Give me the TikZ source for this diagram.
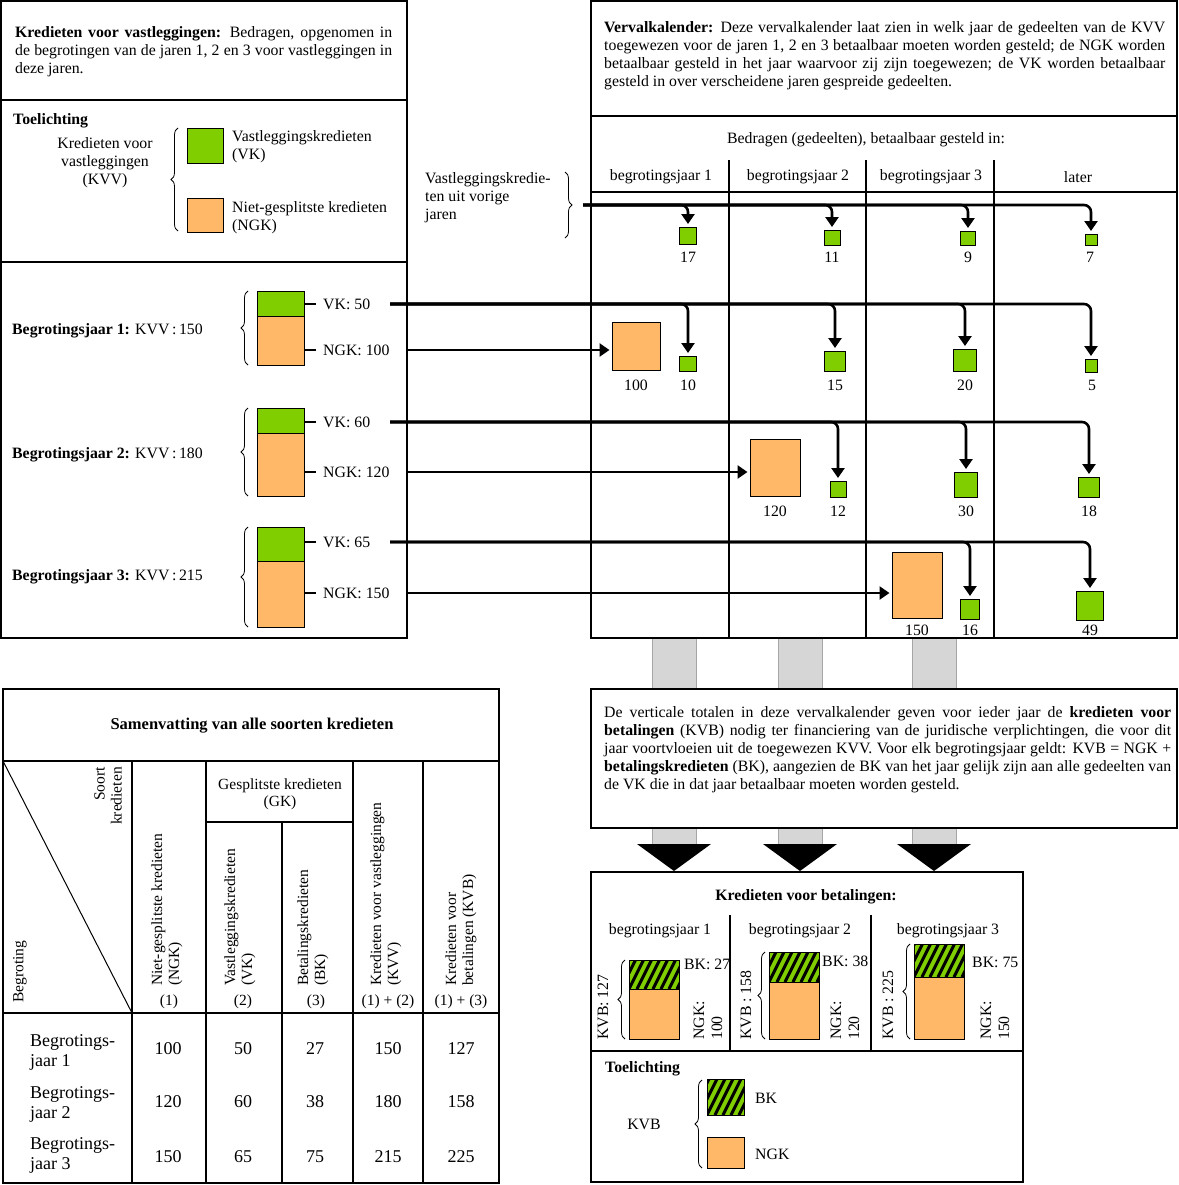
\documentclass[tikz,border=0pt]{standalone}
\usepackage{fontspec}
\setmainfont{Liberation Serif}
\usetikzlibrary{arrows.meta,decorations.pathreplacing,calc}
\definecolor{vkgreen}{RGB}{128,206,0}
\definecolor{ngkorange}{RGB}{255,183,104}
\definecolor{bargrey}{RGB}{214,214,214}
\newcommand\jl[2]{\makebox[#1][s]{#2}}
\newcommand\hatchrect[5]{%
  \fill[vkgreen] (#2,#3) rectangle (#4,#5);
  \begin{scope}
    \clip (#2,#3) rectangle (#4,#5);
    \foreach \k in {-40,-32,...,64} {\draw[line width=3pt] (#2+\k,#5) -- ++(22,-44);}
  \end{scope}
  \draw[line width=1pt] (#2,#3) rectangle (#4,#5);
  \coordinate (#1) at ($(#2,#3)!0.5!(#4,#5)$);
}
\begin{document}
\begin{tikzpicture}[x=1pt,y=-1pt,
  t/.style={font=\fontsize{15.8}{18}\selectfont, inner sep=0pt},
  tbf/.style={font=\fontsize{15.8}{18}\selectfont\bfseries, inner sep=0pt},
  tb/.style={font=\fontsize{18}{20}\selectfont, inner sep=0pt},
  th/.style={font=\fontsize{15.5}{17}\selectfont, inner sep=0pt},
  frame/.style={line width=1.8pt},
  grid/.style={line width=1.4pt},
  tick/.style={line width=2.4pt},
  vkline/.style={line width=2.6pt, rounded corners=7pt, -{Triangle[length=10pt,width=13pt]}, shorten >=3pt},
  ngkline/.style={line width=2.6pt, -{Triangle[length=10pt,width=13pt]}, shorten >=2pt},
  gsq/.style={draw, line width=1pt, fill=vkgreen, inner sep=0pt, anchor=south},
  osq/.style={draw, line width=1pt, fill=ngkorange, inner sep=0pt, anchor=south},
  brc/.style={decorate, decoration={brace, amplitude=7pt}, line width=0.8pt}
]
\useasboundingbox (0,0) rectangle (1178,1185);

% ---------- grey bars and down arrows ----------
\foreach \c in {674,800,934} {
  \filldraw[fill=bargrey, draw=gray!70, line width=0.8pt] (\c-22,638) rectangle (\c+22,689);
  \filldraw[fill=bargrey, draw=gray!70, line width=0.8pt] (\c-22,828) rectangle (\c+22,845);
  \fill (\c-37,844) -- (\c+37,844) -- (\c,871) -- cycle;
}

% ---------- LEFT BOX ----------
\draw[frame] (1,1) rectangle (407,638);
\draw[frame] (1,100) -- (407,100);
\draw[frame] (1,262) -- (407,262);
\node[t, anchor=north west, align=left] (kvvtxt) at (15,26)
  {\jl{377pt}{\textbf{Kredieten voor vastleggingen:} Bedragen, opgenomen in}\\
   \jl{377pt}{de begrotingen van de jaren 1, 2 en 3 voor vastleggingen in}\\
   deze jaren.};
\node[tbf, anchor=west] (toel1) at (13,121) {Toelichting};
\node[t, align=center] (kvvlbl) at (105,163) {Kredieten voor\\vastleggingen\\(KVV)};
\draw[brc] (178,231) -- (178,128);
\node[gsq, anchor=north west, minimum width=36pt, minimum height=35pt] (lgvk) at (187,128) {};
\node[osq, anchor=north west, minimum width=36pt, minimum height=34pt] (lgngk) at (187,198) {};
\node[t, anchor=west, align=left] (lgvktxt) at (232,147) {Vastleggingskredieten\\(VK)};
\node[t, anchor=west, align=left] (lgngktxt) at (232,218) {Niet-gesplitste kredieten\\(NGK)};

% year 1
\node[t, anchor=west] (by1) at (12,331) {\textbf{Begrotingsjaar 1:} KVV\,:\,150};
\node[gsq, anchor=north west, minimum width=47pt, minimum height=25pt] (g1) at (257,291) {};
\node[osq, anchor=north west, minimum width=47pt, minimum height=49pt] (o1) at (257,316) {};
\draw[brc] (248,365) -- (248,291);
\node[t, anchor=west] (lv1) at (323,304) {VK: 50};
\node[t, anchor=west] (ln1) at (323,350) {NGK: 100};
\draw[tick] (g1.east |- lv1.west) -- ([xshift=-7pt]lv1.west);
\draw[tick] (o1.east |- ln1.west) -- ([xshift=-7pt]ln1.west);
% year 2
\node[t, anchor=west] (by2) at (12,455) {\textbf{Begrotingsjaar 2:} KVV\,:\,180};
\node[gsq, anchor=north west, minimum width=47pt, minimum height=25pt] (g2) at (257,408) {};
\node[osq, anchor=north west, minimum width=47pt, minimum height=63pt] (o2) at (257,433) {};
\draw[brc] (248,496) -- (248,408);
\node[t, anchor=west] (lv2) at (323,422) {VK: 60};
\node[t, anchor=west] (ln2) at (323,472) {NGK: 120};
\draw[tick] (g2.east |- lv2.west) -- ([xshift=-7pt]lv2.west);
\draw[tick] (o2.east |- ln2.west) -- ([xshift=-7pt]ln2.west);
% year 3
\node[t, anchor=west] (by3) at (12,577) {\textbf{Begrotingsjaar 3:} KVV\,:\,215};
\node[gsq, anchor=north west, minimum width=47pt, minimum height=34pt] (g3) at (257,527) {};
\node[osq, anchor=north west, minimum width=47pt, minimum height=66pt] (o3) at (257,561) {};
\draw[brc] (248,627) -- (248,527);
\node[t, anchor=west] (lv3) at (323,542) {VK: 65};
\node[t, anchor=west] (ln3) at (323,593) {NGK: 150};
\draw[tick] (g3.east |- lv3.west) -- ([xshift=-7pt]lv3.west);
\draw[tick] (o3.east |- ln3.west) -- ([xshift=-7pt]ln3.west);

% ---------- RIGHT BOX (Vervalkalender) ----------
\draw[frame] (591,1) rectangle (1177,638);
\draw[frame] (591,116) -- (1177,116);
\draw[line width=2.6pt] (591,192) -- (1177,192);
\foreach \x in {729,866,994} {\draw[grid] (\x,160) -- (\x,638);}
\node[t, anchor=north west, align=left] (vvtxt) at (604,21)
  {\jl{561pt}{\textbf{Vervalkalender:} Deze vervalkalender laat zien in welk jaar de gedeelten van de KVV}\\
   \jl{561pt}{toegewezen voor de jaren 1, 2 en 3 betaalbaar moeten worden gesteld; de NGK worden}\\
   \jl{561pt}{betaalbaar gesteld in het jaar waarvoor zij zijn toegewezen; de VK worden betaalbaar}\\
   gesteld in over verscheidene jaren gespreide gedeelten.};
\node[t] (bedr) at (866,140) {Bedragen (gedeelten), betaalbaar gesteld in:};
\node[t] (c1) at (661,177) {begrotingsjaar 1};
\node[t] (c2) at (798,177) {begrotingsjaar 2};
\node[t] (c3) at (931,177) {begrotingsjaar 3};
\node[t] (c4) at (1078,177) {later};

\node[t, anchor=north west, align=left] (vorige) at (425,172) {Vastleggingskredie-\\ten uit vorige\\jaren};
\draw[brc] (565,172) -- (565,238);

% start coordinates of connectors
\coordinate (v0) at (583,205);
\coordinate (v1) at (390,304);
\coordinate (v2) at (390,422);
\coordinate (v3) at (390,542);
\coordinate (n1) at (408,350);
\coordinate (n2) at (408,472);
\coordinate (n3) at (408,593);

% target squares
\node[gsq, minimum width=17pt, minimum height=17pt] (q17) at (688,245) {};
\node[gsq, minimum width=16pt, minimum height=15pt] (q11) at (832,246) {};
\node[gsq, minimum width=15pt, minimum height=14pt] (q9)  at (968,246) {};
\node[gsq, minimum width=12pt, minimum height=11pt] (q7)  at (1091,246) {};
\node[osq, minimum width=48pt, minimum height=48pt] (o100) at (636,371) {};
\node[gsq, minimum width=17pt, minimum height=15pt] (q10) at (688,372) {};
\node[gsq, minimum width=21pt, minimum height=20pt] (q15) at (835,372) {};
\node[gsq, minimum width=23pt, minimum height=22pt] (q20) at (965,372) {};
\node[gsq, minimum width=12pt, minimum height=13pt] (q5)  at (1091,373) {};
\node[osq, minimum width=50pt, minimum height=57pt] (o120) at (775,497) {};
\node[gsq, minimum width=16pt, minimum height=16pt] (q12) at (838,498) {};
\node[gsq, minimum width=23pt, minimum height=25pt] (q30) at (966,498) {};
\node[gsq, minimum width=21pt, minimum height=20pt] (q18) at (1089,498) {};
\node[osq, minimum width=50pt, minimum height=66pt] (o150) at (917,619) {};
\node[gsq, minimum width=19pt, minimum height=20pt] (q16) at (970,620) {};
\node[gsq, minimum width=27pt, minimum height=29pt] (q49) at (1090,621) {};

% value labels
\node[t] (l17) at (688,257) {17};
\node[t] (l11) at (832,257) {11};
\node[t] (l9)  at (968,257) {9};
\node[t] (l7)  at (1090,257) {7};
\node[t] (l100) at (636,385) {100};
\node[t] (l10) at (688,385) {10};
\node[t] (l15) at (835,385) {15};
\node[t] (l20) at (965,385) {20};
\node[t] (l5)  at (1092,385) {5};
\node[t] (l120) at (775,511) {120};
\node[t] (l12) at (838,511) {12};
\node[t] (l30) at (966,511) {30};
\node[t] (l18) at (1089,511) {18};
\node[t] (l150) at (917,630) {150};
\node[t] (l16) at (970,630) {16};
\node[t] (l49) at (1090,630) {49};

% connectors
\draw[vkline] (v0) -| (q17.north);
\draw[vkline] (v0) -| (q11.north);
\draw[vkline] (v0) -| (q9.north);
\draw[vkline] (v0) -| (q7.north);
\draw[vkline] (v1) -| (q10.north);
\draw[vkline] (v1) -| (q15.north);
\draw[vkline] (v1) -| (q20.north);
\draw[vkline] (v1) -| (q5.north);
\draw[vkline] (v2) -| (q12.north);
\draw[vkline] (v2) -| (q30.north);
\draw[vkline] (v2) -| (q18.north);
\draw[vkline] (v3) -| (q16.north);
\draw[vkline] (v3) -| (q49.north);
\draw[ngkline] (n1) -- (n1 -| o100.west);
\draw[ngkline] (n2) -- (n2 -| o120.west);
\draw[ngkline] (n3) -- (n3 -| o150.west);

% ---------- INFO BOX ----------
\draw[frame, fill=white] (591,689) rectangle (1177,828);
\node[t, anchor=north west, align=left] (infotxt) at (604,706)
  {\jl{567pt}{De verticale totalen in deze vervalkalender geven voor ieder jaar de \textbf{kredieten voor}}\\
   \jl{567pt}{\textbf{betalingen} (KVB) nodig ter financiering van de juridische verplichtingen, die voor dit}\\
   \jl{567pt}{jaar voortvloeien uit de toegewezen KVV. Voor elk begrotingsjaar geldt: KVB = NGK +}\\
   \jl{567pt}{\textbf{betalingskredieten} (BK), aangezien de BK van het jaar gelijk zijn aan alle gedeelten van}\\
   de VK die in dat jaar betaalbaar moeten worden gesteld.};

% ---------- KREDIETEN VOOR BETALINGEN ----------
\draw[frame] (591,872) rectangle (1023,1182);
\draw[frame] (591,1051) -- (1023,1051);
\draw[grid] (730,915) -- (730,1051);
\draw[grid] (871,915) -- (871,1051);
\node[tbf] (kvbtitle) at (806,897) {Kredieten voor betalingen:};
\node[t] (bc1) at (660,931) {begrotingsjaar 1};
\node[t] (bc2) at (800,931) {begrotingsjaar 2};
\node[t] (bc3) at (948,931) {begrotingsjaar 3};

\hatchrect{hb1}{629}{960}{679}{989}
\node[osq, anchor=north west, minimum width=50pt, minimum height=50pt] (ob1) at (629,989) {};
\hatchrect{hb2}{769}{952}{819}{982}
\node[osq, anchor=north west, minimum width=50pt, minimum height=57pt] (ob2) at (769,982) {};
\hatchrect{hb3}{914}{944}{964}{977}
\node[osq, anchor=north west, minimum width=50pt, minimum height=62pt] (ob3) at (914,977) {};
\draw[brc] (625,1039) -- (625,960);
\draw[brc] (765,1039) -- (765,952);
\draw[brc] (910,1039) -- (910,944);
\node[t, rotate=90, anchor=west] (kvb1) at (603,1040) {KVB: 127};
\node[t, rotate=90, anchor=west] (kvb2) at (746,1040) {KVB : 158};
\node[t, rotate=90, anchor=west] (kvb3) at (888,1040) {KVB : 225};
\node[t, anchor=west] (bk1) at (684,964) {BK: 27};
\node[t, anchor=west] (bk2) at (822,961) {BK: 38};
\node[t, anchor=west] (bk3) at (972,962) {BK: 75};
\node[t, rotate=90, anchor=west, align=left] (ngkb1) at (708,1040) {NGK:\\100};
\node[t, rotate=90, anchor=west, align=left] (ngkb2) at (845,1040) {NGK:\\120};
\node[t, rotate=90, anchor=west, align=left] (ngkb3) at (995,1040) {NGK:\\150};

\node[tbf, anchor=west] (toel2) at (605,1069) {Toelichting};
\node[t] (kvblg) at (644,1124) {KVB};
\draw[brc] (702,1168) -- (702,1080);
\hatchrect{hblg}{707}{1079}{744}{1115}
\node[osq, anchor=north west, minimum width=37pt, minimum height=31pt] (oblg) at (707,1137) {};
\node[t, anchor=west] (bklg) at (755,1098) {BK};
\node[t, anchor=west] (ngklg) at (755,1154) {NGK};

% ---------- SUMMARY TABLE ----------
\draw[frame] (3,689) rectangle (499,1183);
\draw[grid] (3,761) -- (499,761);
\draw[grid] (3,1013) -- (499,1013);
\foreach \x in {132,206,353,423} {\draw[grid] (\x,761) -- (\x,1183);}
\draw[grid] (282,822) -- (282,1183);
\draw[grid] (206,822) -- (353,822);
\draw[line width=1pt] (3,761) -- (132,1013);
\node[font=\fontsize{16.5}{19}\selectfont\bfseries, inner sep=0pt] (sumtitle) at (252,726) {Samenvatting van alle soorten kredieten};
\node[th, rotate=90, anchor=east, align=right] (soort) at (108,767) {Soort\\kredieten};
\node[th, rotate=90, anchor=west] (begr) at (20,1003) {Begroting};
\node[th, align=center] (gk) at (280,794) {Gesplitste kredieten\\(GK)};
\node[th, rotate=90, anchor=west, align=left] (th1) at (167,986) {Niet-gesplitste kredieten\\(NGK)};
\node[th, rotate=90, anchor=west, align=left] (th2) at (240,986) {Vastleggingskredieten\\(VK)};
\node[th, rotate=90, anchor=west, align=left] (th3) at (313,986) {Betalingskredieten\\(BK)};
\node[th, rotate=90, anchor=west, align=left] (th4) at (386,986) {Kredieten voor vastleggingen\\(KVV)};
\node[th, rotate=90, anchor=west, align=left] (th5) at (461,986) {Kredieten voor\\betalingen (KVB)};
\node[th] (tn1) at (169,1002) {(1)};
\node[th] (tn2) at (243,1002) {(2)};
\node[th] (tn3) at (316,1002) {(3)};
\node[th] (tn4) at (388,1002) {(1) + (2)};
\node[th] (tn5) at (461,1002) {(1) + (3)};

\node[tb, anchor=west, align=left] (r1) at (30,1052) {Begrotings-\\jaar 1};
\node[tb, anchor=west, align=left] (r2) at (30,1104) {Begrotings-\\jaar 2};
\node[tb, anchor=west, align=left] (r3) at (30,1155) {Begrotings-\\jaar 3};
\node[tb] (a11) at (168,1049) {100};
\node[tb] (a12) at (243,1049) {50};
\node[tb] (a13) at (315,1049) {27};
\node[tb] (a14) at (388,1049) {150};
\node[tb] (a15) at (461,1049) {127};
\node[tb] (a21) at (168,1102) {120};
\node[tb] (a22) at (243,1102) {60};
\node[tb] (a23) at (315,1102) {38};
\node[tb] (a24) at (388,1102) {180};
\node[tb] (a25) at (461,1102) {158};
\node[tb] (a31) at (168,1157) {150};
\node[tb] (a32) at (243,1157) {65};
\node[tb] (a33) at (315,1157) {75};
\node[tb] (a34) at (388,1157) {215};
\node[tb] (a35) at (461,1157) {225};
\end{tikzpicture}
\end{document}
